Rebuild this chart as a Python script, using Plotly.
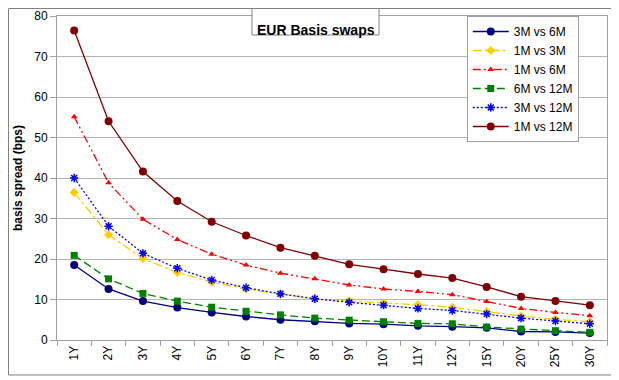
import plotly.graph_objects as go

tenors = ["1Y", "2Y", "3Y", "4Y", "5Y", "6Y", "7Y", "8Y", "9Y", "10Y",
          "11Y", "12Y", "15Y", "20Y", "25Y", "30Y"]

s_3m_6m = [18.5, 12.6, 9.6, 8.0, 6.8, 5.8, 5.0, 4.6, 4.1, 3.9, 3.5, 3.3, 3.0, 2.1, 2.0, 1.7]
s_1m_3m = [36.4, 26.0, 20.1, 16.7, 14.3, 12.6, 11.3, 10.2, 9.6, 9.2, 8.7, 8.1, 7.0, 5.9, 5.1, 4.5]
s_1m_6m = [55.1, 38.8, 29.8, 24.8, 21.2, 18.5, 16.5, 15.1, 13.6, 12.6, 12.0, 11.2, 9.5, 7.8, 6.8, 6.0]
s_6m_12m = [20.9, 15.1, 11.5, 9.6, 8.1, 7.1, 6.2, 5.4, 4.9, 4.5, 4.1, 4.0, 3.2, 2.7, 2.3, 1.9]
s_3m_12m = [40.0, 28.1, 21.4, 17.7, 14.8, 12.9, 11.4, 10.2, 9.3, 8.6, 7.8, 7.3, 6.4, 5.4, 4.7, 4.0]
s_1m_12m = [76.4, 54.0, 41.6, 34.3, 29.2, 25.8, 22.8, 20.8, 18.7, 17.5, 16.3, 15.3, 13.1, 10.7, 9.6, 8.6]

font = "Liberation Sans, Arial, sans-serif"

series = [
    ("3M vs 6M", s_3m_6m, "#000080", "solid", "circle", 8),
    ("1M vs 3M", s_1m_3m, "#FFCC00", "dashdot", "diamond", 7),
    ("1M vs 6M", s_1m_6m, "#FF0000", "8px,3px,2px,3px,2px,3px", "triangle-up", 6),
    ("6M vs 12M", s_6m_12m, "#008000", "8px,4px", "square", 7),
    ("3M vs 12M", s_3m_12m, "#0000FF", "2px,2px", "asterisk-open", 7),
    ("1M vs 12M", s_1m_12m, "#800000", "solid", "circle", 8),
]

fig = go.Figure()
for name, vals, col, dash, sym, size in series:
    fig.add_trace(go.Scatter(
        x=tenors, y=vals, name=name, mode="lines+markers",
        line=dict(color=col, width=1.3, dash=dash),
        marker=dict(color=col, symbol=sym, size=size,
                    line=dict(color=col, width=1.5 if sym == "asterisk-open" else 0)),
    ))

# outer chart border (page body has an 8px margin, so the figure is a bit smaller)
fig.add_shape(type="rect", xref="paper", yref="paper",
              x0=-0.0882, x1=1.0109, y0=-0.108, y1=1.0231,
              line=dict(color="#808080", width=1), layer="below")
# title box
fig.add_shape(type="rect", xref="paper", yref="paper",
              x0=0.3545, x1=0.5855, y0=0.9414, y1=1.0231,
              line=dict(color="#808080", width=1), fillcolor="white", layer="above")
fig.add_annotation(text="<b>EUR Basis swaps</b>", xref="paper", yref="paper",
                   x=0.47, y=0.988, showarrow=False,
                   font=dict(family=font, size=14, color="black"))

fig.update_layout(
    width=611, height=372,
    margin=dict(l=49, r=12, t=8, b=40),
    paper_bgcolor="white", plot_bgcolor="white",
    font=dict(family=font, size=12, color="black"),
    showlegend=True,
    legend=dict(x=0.745, y=1.0, xanchor="left", yanchor="top",
                bgcolor="white", bordercolor="#a0a0a0", borderwidth=1,
                font=dict(family=font, size=12), tracegroupgap=0,
                itemwidth=36),
)
fig.update_xaxes(
    type="category", range=[-0.5, 15.5], tickangle=-90, automargin=False,
    showgrid=False, showline=True, linecolor="#a0a0a0", mirror=True,
    ticks="outside", ticklen=5, tickcolor="#a0a0a0", tickson="boundaries",
    tickfont=dict(family=font, size=12),
)
fig.update_yaxes(
    range=[0, 80], dtick=10, showgrid=True, gridcolor="#b4b4b4", automargin=False,
    showline=True, linecolor="#a0a0a0", mirror=True, zeroline=False,
    ticks="outside", ticklen=6, tickcolor="#a0a0a0",
    tickfont=dict(family=font, size=12),
    title=dict(text="<b>basis spread (bps)</b>", font=dict(family=font, size=12), standoff=9),
)

fig.write_html("out.html")
